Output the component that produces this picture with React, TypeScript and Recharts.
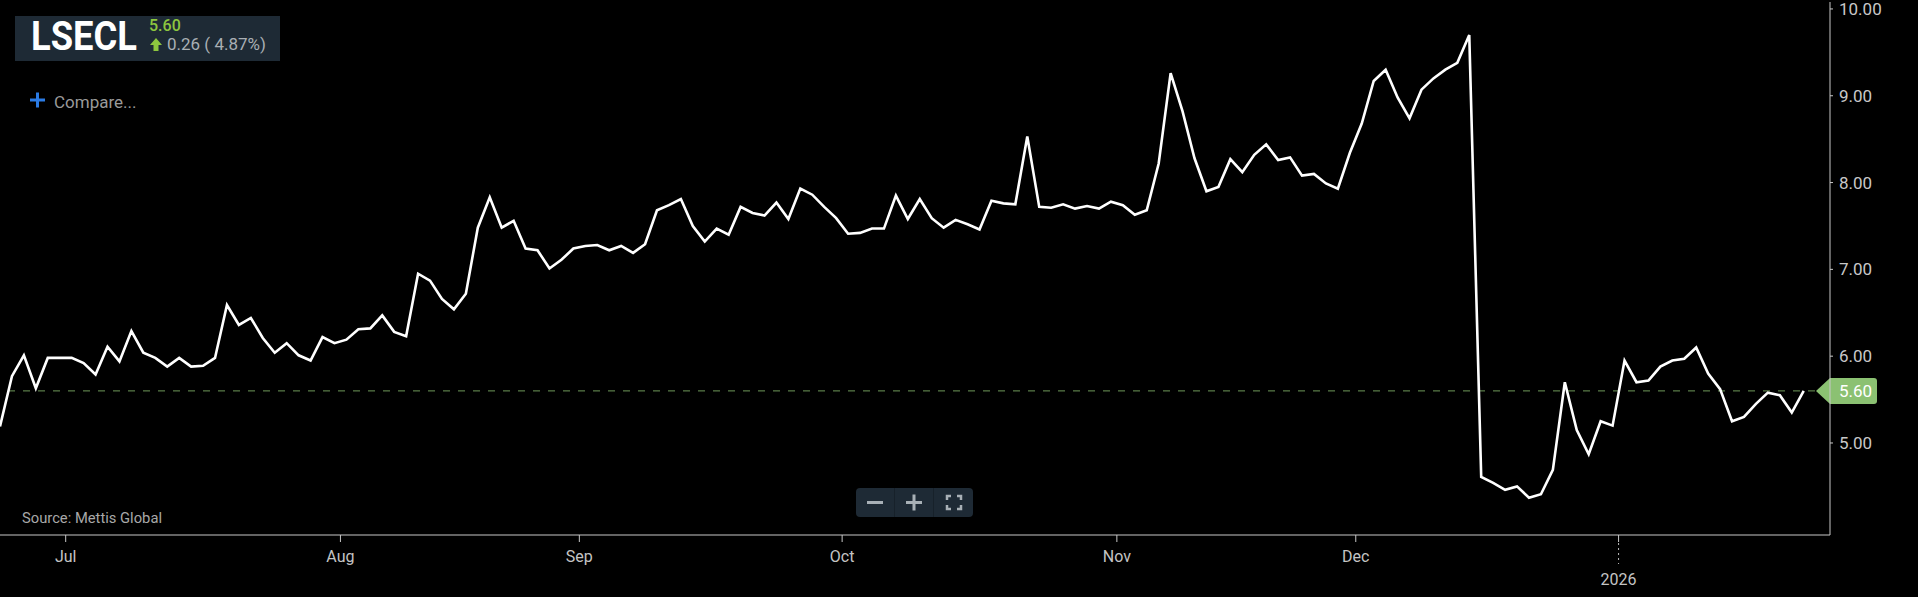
import { LineChart, Line, XAxis, YAxis, ReferenceLine } from "recharts"

// daily closes, first session 23 Jun 2025
const START_DATE = "2025-06-23"
const HOLIDAYS = ["2025-08-14", "2025-12-25"]

const prices = [
  5.19, 5.77, 6.01, 5.63, 5.98, 5.98, 5.98, 5.92, 5.79, 6.11,
  5.94, 6.29, 6.04, 5.98, 5.88, 5.98, 5.88, 5.89, 5.98, 6.59,
  6.36, 6.44, 6.21, 6.04, 6.15, 6.01, 5.95, 6.22, 6.15, 6.19,
  6.31, 6.32, 6.47, 6.28, 6.23, 6.95, 6.87, 6.66, 6.54, 6.72,
  7.48, 7.83, 7.48, 7.56, 7.24, 7.22, 7.01, 7.11, 7.24, 7.27,
  7.28, 7.22, 7.27, 7.19, 7.29, 7.68, 7.74, 7.81, 7.5, 7.32,
  7.47, 7.4, 7.72, 7.65, 7.62, 7.77, 7.58, 7.93, 7.86, 7.72,
  7.59, 7.41, 7.42, 7.47, 7.47, 7.85, 7.58, 7.81, 7.59, 7.48,
  7.57, 7.52, 7.46, 7.79, 7.76, 7.75, 8.53, 7.72, 7.71, 7.75,
  7.7, 7.73, 7.7, 7.78, 7.74, 7.63, 7.68, 8.22, 9.26, 8.82,
  8.28, 7.9, 7.95, 8.27, 8.12, 8.32, 8.44, 8.26, 8.29, 8.08,
  8.1, 7.99, 7.93, 8.34, 8.68, 9.17, 9.3, 8.98, 8.74, 9.07,
  9.2, 9.3, 9.38, 9.7, 4.61, 4.54, 4.46, 4.5, 4.37, 4.41,
  4.69, 5.7, 5.15, 4.87, 5.25, 5.2, 5.95, 5.7, 5.72, 5.88,
  5.95, 5.97, 6.1, 5.8, 5.62, 5.25, 5.3, 5.45, 5.58, 5.55,
  5.35, 5.6,
]

const yTicks = [5, 6, 7, 8, 9, 10]
const monthNames = ["Jan", "Feb", "Mar", "Apr", "May", "Jun", "Jul", "Aug", "Sep", "Oct", "Nov", "Dec"]

const ticker = "LSECL"
const lastPrice = 5.6
const change = 0.26
const changePct = 4.87

const W = 1918
const H = 597
const X_AXIS_H = 62
const PLOT_BOTTOM = H - X_AXIS_H
const X_MAX = 153.2

function tradingDays(start: string, count: number, holidays: string[]) {
  const out: string[] = []
  const d = new Date(start + "T00:00:00Z")
  while (out.length < count) {
    const wd = d.getUTCDay()
    const iso = d.toISOString().slice(0, 10)
    if (wd !== 0 && wd !== 6 && !holidays.includes(iso)) out.push(iso)
    d.setUTCDate(d.getUTCDate() + 1)
  }
  return out
}

const dates = tradingDays(START_DATE, prices.length, HOLIDAYS)
const data = prices.map((p, i) => ({ i, date: dates[i], price: p }))

// month boundaries sit between the last and first session
const monthTicks: { pos: number; label: string; year: boolean }[] = []
for (let i = 1; i < dates.length; i++) {
  if (dates[i].slice(0, 7) !== dates[i - 1].slice(0, 7)) {
    const m = Number(dates[i].slice(5, 7)) - 1
    monthTicks.push({
      pos: i - 0.5,
      label: m === 0 ? dates[i].slice(0, 4) : monthNames[m],
      year: m === 0,
    })
  }
}

const FONT = "Roboto, 'Noto Sans', sans-serif"

const XTick = (props: any) => {
  const { x, payload } = props
  const t = monthTicks.find((mt) => Math.abs(mt.pos - payload.value) < 0.01)
  if (!t) return null
  if (t.year) {
    return (
      <g>
        <line x1={x} x2={x} y1={PLOT_BOTTOM + 8} y2={PLOT_BOTTOM + 29} stroke="#bbb" strokeDasharray="2 3" />
        <text x={x} y={PLOT_BOTTOM + 50} textAnchor="middle" fill="#c4c4c4" fontSize={16} fontFamily={FONT}>
          {t.label}
        </text>
      </g>
    )
  }
  return (
    <text x={x} y={PLOT_BOTTOM + 27} textAnchor="middle" fill="#c4c4c4" fontSize={16} fontFamily={FONT}>
      {t.label}
    </text>
  )
}

const PriceTag = (props: any) => {
  const { viewBox } = props
  if (!viewBox) return null
  const right = viewBox.x + viewBox.width
  const cy = viewBox.y
  const tip = right - 14
  const r = 3
  const end = right + 47
  return (
    <g>
      <path
        d={`M${tip},${cy} L${right},${cy - 13} L${end - r},${cy - 13} Q${end},${cy - 13} ${end},${cy - 13 + r} L${end},${cy + 13 - r} Q${end},${cy + 13} ${end - r},${cy + 13} L${right},${cy + 13} Z`}
        fill="#8bc172"
      />
      <text x={right + 9} y={cy + 6} fill="#fff" fontSize={17} fontFamily={FONT}>
        {lastPrice.toFixed(2)}
      </text>
    </g>
  )
}

const Overlay = () => (
  <svg width={W} height={H} style={{ position: "absolute", left: 0, top: 0, pointerEvents: "none" }}>
    <rect x={15} y={16} width={265} height={45} fill="#1e2a35" />
    <text x={31} y={50} fill="#fff" fontSize={41} fontWeight={700} fontFamily={FONT} textLength={106} lengthAdjust="spacingAndGlyphs">
      {ticker}
    </text>
    <text x={149} y={31} fill="#8dc63f" fontSize={16} fontWeight={500} fontFamily={FONT}>
      {lastPrice.toFixed(2)}
    </text>
    <polygon points="150,45 156,38 162,45 158.5,45 158.5,51 153.5,51 153.5,45" fill="#8dc63f" />
    <text x={167} y={50} fill="#a9afb4" fontSize={17} fontFamily={FONT}>
      {`${change.toFixed(2)} ( ${changePct.toFixed(2)}%)`}
    </text>

    <line x1={30} x2={45} y1={100} y2={100} stroke="#2b7be4" strokeWidth={3} />
    <line x1={37.5} x2={37.5} y1={92.5} y2={107.5} stroke="#2b7be4" strokeWidth={3} />
    <text x={54} y={108} fill="#9a9a9a" fontSize={17} fontFamily={FONT}>
      Compare...
    </text>

    <text x={22} y={523} fill="#a8a8a8" fontSize={15} fontFamily={FONT} textLength={140} lengthAdjust="spacingAndGlyphs">
      Source: Mettis Global
    </text>

    <rect x={856} y={488} width={117} height={29} rx={4} fill="#1e2a35" />
    <line x1={894.5} x2={894.5} y1={488} y2={517} stroke="#17212a" />
    <line x1={933.5} x2={933.5} y1={488} y2={517} stroke="#17212a" />
    <line x1={867} x2={883} y1={502.5} y2={502.5} stroke="#a8b0b6" strokeWidth={3} />
    <line x1={906} x2={922} y1={502.5} y2={502.5} stroke="#a8b0b6" strokeWidth={3} />
    <line x1={914} x2={914} y1={494.5} y2={510.5} stroke="#a8b0b6" strokeWidth={3} />
    <path
      d="M947,500 V496 H951 M957,496 H961 V500 M961,505 V509 H957 M951,509 H947 V505"
      stroke="#a8b0b6"
      strokeWidth={2.5}
      fill="none"
    />
  </svg>
)

export default function App() {
  return (
    <div style={{ position: "fixed", left: 0, top: 0, width: W, height: H, background: "#000", overflow: "hidden" }}>
      <LineChart width={W} height={H} data={data} margin={{ top: 2, right: 0, bottom: 0, left: 0 }}>
        <XAxis
          dataKey="i"
          type="number"
          domain={[0, X_MAX]}
          allowDataOverflow
          ticks={monthTicks.map((t) => t.pos)}
          interval={0}
          height={X_AXIS_H}
          tick={<XTick />}
          tickSize={7}
          axisLine={{ stroke: "#c8c8c8" }}
          tickLine={{ stroke: "#c8c8c8" }}
        />
        <YAxis
          orientation="right"
          width={88}
          domain={[3.94, 10.08]}
          allowDataOverflow
          ticks={yTicks}
          interval={0}
          tickFormatter={(v: number) => v.toFixed(2)}
          tick={{ fill: "#c8c8c8", fontSize: 17, fontFamily: FONT }}
          tickSize={3}
          tickMargin={6}
          axisLine={{ stroke: "#c8c8c8" }}
          tickLine={{ stroke: "#c8c8c8" }}
        />
        <ReferenceLine
          y={lastPrice}
          stroke="#6f9a5a"
          strokeDasharray="7 8"
          ifOverflow="visible"
          label={<PriceTag />}
        />
        <Line
          type="linear"
          dataKey="price"
          stroke="#ffffff"
          strokeWidth={2.6}
          dot={false}
          activeDot={false}
          isAnimationActive={false}
        />
      </LineChart>
      <Overlay />
    </div>
  )
}
